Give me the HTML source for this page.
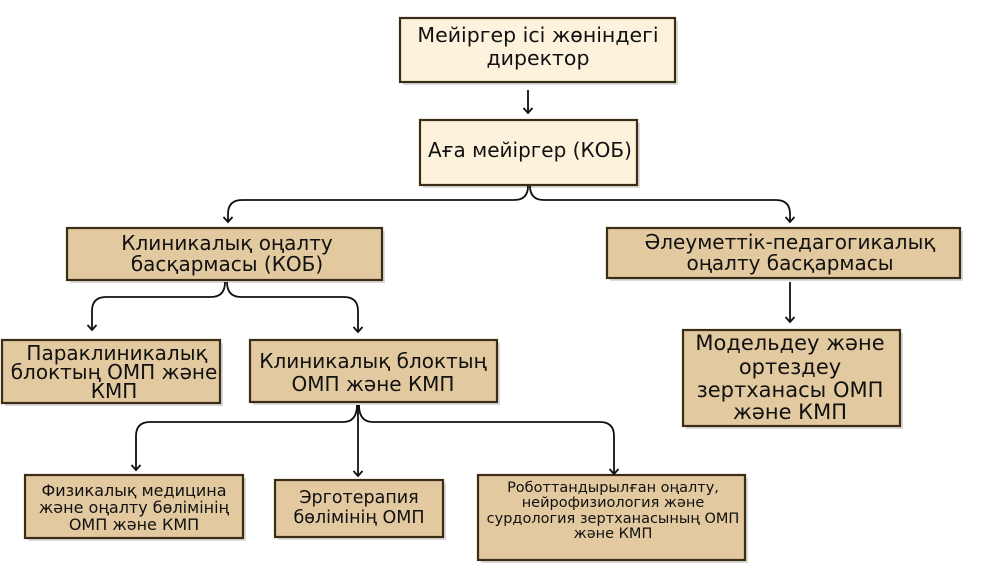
<!DOCTYPE html>
<html><head><meta charset="utf-8"><style>
html,body{margin:0;padding:0;background:#fff;}
svg{display:block;}
text{font-family:"DejaVu Sans","Liberation Sans",sans-serif;fill:#111;text-anchor:middle;}
.b{stroke:#3b2c14;stroke-width:2.2;}
.c{fill:#fdf3dc;}
.t{fill:#e2c9a0;}
.s{fill:#000;opacity:.14;}
.l{fill:none;stroke:#111;stroke-width:1.8;}
</style></head><body>
<svg width="1000" height="563" viewBox="0 0 1000 563">
<defs><marker id="a" markerWidth="12" markerHeight="12" refX="9" refY="6" orient="auto" markerUnits="userSpaceOnUse"><path d="M4,1.5 L9,6 L4,10.5" fill="none" stroke="#111" stroke-width="1.8"/></marker></defs>
<rect class="s" x="403" y="21" width="275" height="64"/>
<rect class="s" x="423" y="123" width="217" height="65"/>
<rect class="s" x="70" y="231" width="315" height="52"/>
<rect class="s" x="610" y="231" width="353" height="50"/>
<rect class="s" x="5" y="343" width="218" height="63"/>
<rect class="s" x="253" y="343" width="247" height="62"/>
<rect class="s" x="686" y="333" width="217" height="96"/>
<rect class="s" x="28" y="478" width="218" height="63"/>
<rect class="s" x="278" y="483" width="168" height="57"/>
<rect class="s" x="481" y="478" width="267" height="85"/>
<rect class="b c" x="400" y="18" width="275" height="64"/>
<rect class="b c" x="420" y="120" width="217" height="65"/>
<rect class="b t" x="67" y="228" width="315" height="52"/>
<rect class="b t" x="607" y="228" width="353" height="50"/>
<rect class="b t" x="2" y="340" width="218" height="63"/>
<rect class="b t" x="250" y="340" width="247" height="62"/>
<rect class="b t" x="683" y="330" width="217" height="96"/>
<rect class="b t" x="25" y="475" width="218" height="63"/>
<rect class="b t" x="275" y="480" width="168" height="57"/>
<rect class="b t" x="478" y="475" width="267" height="85"/>
<path class="l" d="M528,90 L528,113" marker-end="url(#a)"/>
<path class="l" d="M528,186 Q528,200 514,200 L242,200 Q228,200 228,214 L228,222" marker-end="url(#a)"/>
<path class="l" d="M530,186 Q530,200 544,200 L776,200 Q790,200 790,214 L790,222" marker-end="url(#a)"/>
<path class="l" d="M225,282 Q225,297 211,297 L106,297 Q92,297 92,311 L92,330" marker-end="url(#a)"/>
<path class="l" d="M227,282 Q227,297 241,297 L344,297 Q358,297 358,311 L358,332" marker-end="url(#a)"/>
<path class="l" d="M790,282 L790,322" marker-end="url(#a)"/>
<path class="l" d="M357,405 Q357,422 343,422 L150,422 Q136,422 136,436 L136,470" marker-end="url(#a)"/>
<path class="l" d="M358,405 L358,476" marker-end="url(#a)"/>
<path class="l" d="M359,405 Q359,422 373,422 L600,422 Q614,422 614,436 L614,474" marker-end="url(#a)"/>
<text font-size="20.5" x="538" y="42">Мейіргер ісі жөніндегі</text>
<text font-size="20.5" x="538" y="65">директор</text>
<text font-size="20" x="530" y="157">Аға мейіргер (КОБ)</text>
<text font-size="20" x="227" y="250">Клиникалық оңалту</text>
<text font-size="20" x="227" y="271">басқармасы (КОБ)</text>
<text font-size="20" x="790" y="249">Әлеуметтік-педагогикалық</text>
<text font-size="20" x="790" y="270">оңалту басқармасы</text>
<text font-size="20" x="117" y="360">Параклиникалық</text>
<text font-size="20" x="114" y="379">блоктың ОМП және</text>
<text font-size="20" x="114" y="398">КМП</text>
<text font-size="20" x="373" y="368">Клиникалық блоктың</text>
<text font-size="20" x="373" y="391">ОМП және КМП</text>
<text font-size="21" x="790" y="350">Модельдеу және</text>
<text font-size="21" x="790" y="374">ортездеу</text>
<text font-size="21" x="790" y="397">зертханасы ОМП</text>
<text font-size="21" x="790" y="419">және КМП</text>
<text font-size="16" x="134" y="496">Физикалық медицина</text>
<text font-size="16" x="134" y="513">және оңалту бөлімінің</text>
<text font-size="16" x="134" y="530">ОМП және КМП</text>
<text font-size="17.5" x="359" y="503">Эрготерапия</text>
<text font-size="17.5" x="359" y="523">бөлімінің ОМП</text>
<text font-size="14.5" x="613" y="492">Роботтандырылған оңалту,</text>
<text font-size="14.5" x="613" y="507">нейрофизиология және</text>
<text font-size="14.5" x="613" y="523">сурдология зертханасының ОМП</text>
<text font-size="14.5" x="613" y="538">және КМП</text>
</svg>
</body></html>
